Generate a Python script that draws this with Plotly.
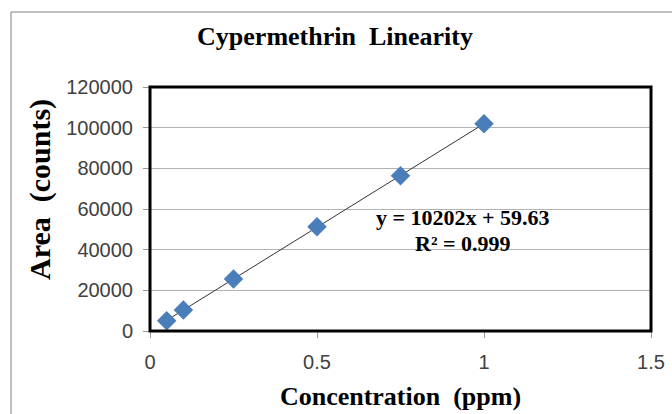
import plotly.graph_objects as go
import numpy as np

# Data
conc_ppm = [0.05, 0.1, 0.25, 0.5, 0.75, 1.0]
area_counts = [5100, 10300, 25600, 51300, 76400, 101900]
eq_text = "y = 10202x + 59.63"
r2_text = "R² = 0.999"
x_ticks = [0, 0.5, 1, 1.5]
x_tick_labels = ["0", "0.5", "1", "1.5"]
y_ticks = [0, 20000, 40000, 60000, 80000, 100000, 120000]
y_tick_labels = ["0", "20000", "40000", "60000", "80000", "100000", "120000"]

W, H = 672, 414
L, R, T, B = 150, 21, 87, 83
pw = W - L - R
ph = H - T - B

# linear trendline fitted to the data
fit_slope, fit_int = np.polyfit(conc_ppm, area_counts, 1)
trend_x = [min(conc_ppm), max(conc_ppm)]
trend_y = [fit_slope * v + fit_int for v in trend_x]

serif = "Liberation Serif, Times New Roman, serif"
sans = "Liberation Sans, Arial, sans-serif"
sp2 = "\u00a0\u00a0"

fig = go.Figure()
fig.add_trace(go.Scatter(x=trend_x, y=trend_y, mode="lines",
                         line=dict(color="#333333", width=1), hoverinfo="skip"))
fig.add_trace(go.Scatter(x=conc_ppm, y=area_counts, mode="markers",
                         marker=dict(symbol="diamond", size=15, color="#4a7ebb",
                                     line=dict(width=0))))

fig.update_layout(
    width=W, height=H,
    margin=dict(l=L, r=R, t=T, b=B),
    paper_bgcolor="white", plot_bgcolor="white",
    showlegend=False,
    title=dict(text="<b>Cypermethrin" + sp2 + "Linearity</b>", x=(335 - L) / pw, xref="paper",
               xanchor="center", y=1 - 36 / H, yanchor="middle",
               font=dict(family=serif, size=26, color="black")),
    xaxis=dict(range=[0, 1.5], tickvals=x_ticks, ticktext=x_tick_labels,
               showgrid=False, zeroline=False, showline=False, automargin=False,
               ticks="outside", ticklen=6, tickcolor="#999999",
               ticklabelstandoff=7,
               tickfont=dict(family=sans, size=20, color="#404040"),
               title=dict(text="<b>Concentration" + sp2 + "(ppm)</b>", standoff=14,
                          font=dict(family=serif, size=26, color="black"))),
    yaxis=dict(range=[0, 120000], tickvals=y_ticks, ticktext=y_tick_labels,
               showgrid=True, gridcolor="#b3b3b3", gridwidth=1,
               zeroline=False, showline=False, automargin=False,
               ticks="outside", ticklen=6, tickcolor="#999999",
               ticklabelstandoff=6,
               tickfont=dict(family=sans, size=20, color="#404040")),
)

# y-axis title (placed like the original, above plot centre)
fig.add_annotation(xref="paper", yref="paper", x=(40 - L) / pw, y=1 - (190 - T) / ph,
                   text="<b>Area" + sp2 + "(counts)</b>", textangle=-90, showarrow=False,
                   xanchor="center", yanchor="middle",
                   font=dict(family=serif, size=30, color="black"))

# thick black plot border
fig.add_shape(type="rect", xref="x domain", yref="y domain", x0=0, x1=1, y0=0, y1=1,
              line=dict(color="black", width=3))
# outer chart border (gray)
fig.add_shape(type="rect", xref="paper", yref="paper",
              x0=(11 - L) / pw, x1=(W + 20 - L) / pw,
              y0=-(B + 20) / ph, y1=1 + (T - 12) / ph,
              line=dict(color="#808080", width=1))

fig.add_annotation(x=0.937, y=55800, xref="x", yref="y", text="<b>" + eq_text + "</b>",
                   showarrow=False, font=dict(family=serif, size=22, color="black"))
fig.add_annotation(x=0.937, y=43100, xref="x", yref="y", text="<b>" + r2_text + "</b>",
                   showarrow=False, font=dict(family=serif, size=22, color="black"))

fig.write_html(
    "out.html", config={"displayModeBar": False},
    post_script=(
        "document.documentElement.style.margin='0';"
        "document.documentElement.style.padding='0';"
        "document.documentElement.style.overflow='hidden';"
        "document.body.style.margin='0';"
        "document.body.style.padding='0';"
        "document.body.style.overflow='hidden';"
        "document.body.style.height='414px';"
    ),
)
